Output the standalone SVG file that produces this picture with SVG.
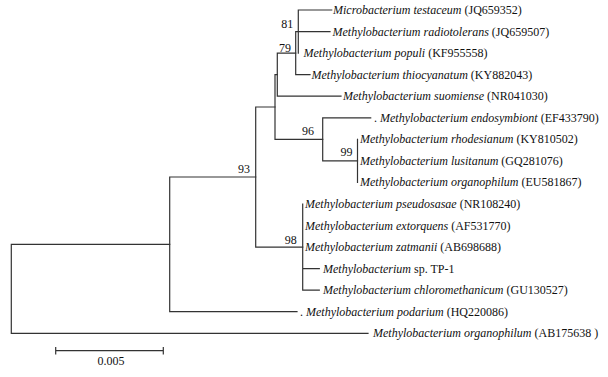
<svg xmlns="http://www.w3.org/2000/svg" width="608" height="377" viewBox="0 0 608 377">
<style>
.br{fill:none;stroke:#333;stroke-width:1.2;stroke-linecap:square}
text{font-family:"Liberation Serif","Times New Roman",serif;font-size:12px;fill:#111}
.sp{font-style:italic}
.bs{text-anchor:middle}
</style>
<rect width="608" height="377" fill="#fff"/>
<g id="connectors">
<path class="br" d="M11.3,244.4V333.3M11.3,244.4H169.7M11.3,333.3H368"/>
<path class="br" d="M169.7,177V311.7M169.7,177H255.7M169.7,311.7H297"/>
<path class="br" d="M255.7,107V247.1M255.7,107H275M255.7,247.1H302.7"/>
<path class="br" d="M275,74.7V139.3M275,74.7H277.3M275,139.3H322.7"/>
<path class="br" d="M277.3,53.2V96.2M277.3,53.2H295.7M277.3,96.2H341"/>
<path class="br" d="M295.7,31.6V74.7M295.7,31.6H330M295.7,74.7H310"/>
<path class="br" d="M298.3,10V53.1M298.3,10H331.7"/>
<path class="br" d="M322.7,117.8V160.9M322.7,117.8H370.7M322.7,160.9H357.5"/>
<path class="br" d="M357.5,139.3V182.4"/>
<path class="br" d="M302.7,204V290.2M302.7,268.6H319.3M302.7,290.2H319.3"/>
</g>
<g id="scale-bar">
<path class="br" d="M55.7,350.7H163.3M55.7,347.5V354M163.3,347.5V354"/>
<text class="bs" x="111" y="365">0.005</text>
</g>
<g id="bootstrap">
<text class="bs" x="287.3" y="28.3">81</text>
<text class="bs" x="285" y="51.7">79</text>
<text class="bs" x="308" y="135">96</text>
<text class="bs" x="346.5" y="155.5">99</text>
<text class="bs" x="244" y="172.7">93</text>
<text class="bs" x="290.7" y="244">98</text>
</g>
<g id="leaf-testaceum"><text x="333" y="14"><tspan class="sp">Microbacterium testaceum</tspan> (JQ659352)</text></g>
<g id="leaf-radiotolerans"><text x="332.5" y="35.6"><tspan class="sp">Methylobacterium radiotolerans</tspan> (JQ659507)</text></g>
<g id="leaf-populi"><text x="303.5" y="57.1"><tspan class="sp">Methylobacterium populi</tspan> (KF955558)</text></g>
<g id="leaf-thiocyanatum"><text x="311.5" y="78.7"><tspan class="sp">Methylobacterium thiocyanatum</tspan> (KY882043)</text></g>
<g id="leaf-suomiense"><text x="343" y="100.2"><tspan class="sp">Methylobacterium suomiense</tspan> (NR041030)</text></g>
<g id="leaf-endosymbiont"><text x="374" y="121.8">. <tspan class="sp">Methylobacterium endosymbiont</tspan> (EF433790)</text></g>
<g id="leaf-rhodesianum"><text x="360" y="143.3"><tspan class="sp">Methylobacterium rhodesianum</tspan> (KY810502)</text></g>
<g id="leaf-lusitanum"><text x="360" y="164.9"><tspan class="sp">Methylobacterium lusitanum</tspan> (GQ281076)</text></g>
<g id="leaf-organophilum-eu"><text x="360" y="186.4"><tspan class="sp">Methylobacterium organophilum</tspan> (EU581867)</text></g>
<g id="leaf-pseudosasae"><text x="305" y="208"><tspan class="sp">Methylobacterium pseudosasae</tspan> (NR108240)</text></g>
<g id="leaf-extorquens"><text x="305" y="229.5"><tspan class="sp">Methylobacterium extorquens</tspan> (AF531770)</text></g>
<g id="leaf-zatmanii"><text x="305" y="251.1"><tspan class="sp">Methylobacterium zatmanii</tspan> (AB698688)</text></g>
<g id="leaf-tp1"><text x="323" y="272.6"><tspan class="sp">Methylobacterium</tspan> sp. TP-1</text></g>
<g id="leaf-chloromethanicum"><text x="323" y="294.2"><tspan class="sp">Methylobacterium chloromethanicum</tspan> (GU130527)</text></g>
<g id="leaf-podarium"><text x="300" y="315.7">. <tspan class="sp">Methylobacterium podarium</tspan> (HQ220086)</text></g>
<g id="leaf-organophilum-ab"><text x="373" y="337.3"><tspan class="sp">Methylobacterium organophilum</tspan> (AB175638 )</text></g>
</svg>
